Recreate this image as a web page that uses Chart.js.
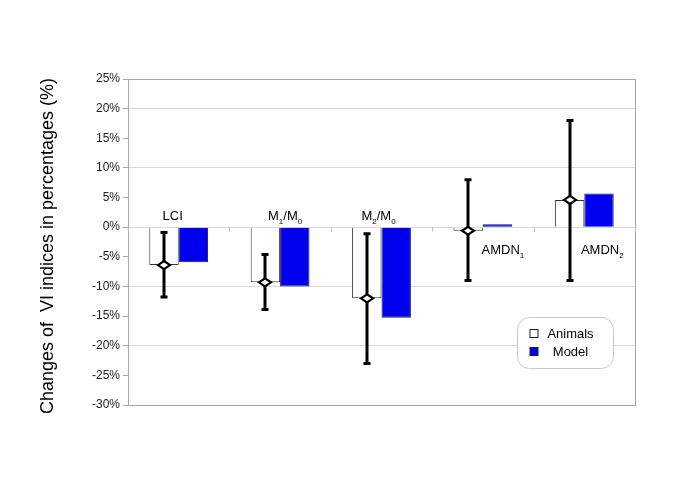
<!DOCTYPE html>
<html>
<head>
<meta charset="utf-8">
<script src="https://cdn.jsdelivr.net/npm/chart.js@4/dist/chart.umd.min.js"></script>
<style>
    html, body { margin: 0; padding: 0; background: #fff; }
    #wrap { width: 685px; height: 484px; }
</style>
</head>
<body>
<div id="wrap"><canvas id="c" width="685" height="484"></canvas></div>
<script>
// ── Data ─────────────────────────────────────────────────────────────────────

// '_' marks the next character as a subscript
const categories = ['LCI', 'M_1/M_0', 'M_2/M_0', 'AMDN_1', 'AMDN_2']
const animals = [-6.4, -9.3, -12.0, -0.6, 4.6]
const model = [-5.9, -10.0, -15.3, 0.5, 5.7]
const errLow = [-11.8, -13.9, -23.0, -9.0, -9.0]
const errHigh = [-0.9, -4.6, -1.1, 8.0, 18.0]
const yTicks = [25, 20, 15, 10, 5, 0, -5, -10, -15, -20, -25, -30]

const FONT = '"Liberation Sans", Arial, Helvetica, sans-serif'
const BLUE = '#0000ee'


// ── Plugins ──────────────────────────────────────────────────────────────────

// frame around the plot + small category ticks on the zero line
const framePlugin = {
    id: 'frame',
    beforeDatasetsDraw(chart) {
        const { ctx, chartArea: a, scales: { x, y } } = chart
        ctx.save()
        ctx.strokeStyle = '#a6a6a6'
        ctx.lineWidth = 1
        ctx.strokeRect(Math.round(a.left) + 0.5, Math.round(a.top) + 0.5,
            Math.round(a.right - a.left), Math.round(a.bottom - a.top))
        const y0 = Math.round(y.getPixelForValue(0)) + 0.5
        ctx.beginPath()
        for (let i = 0; i <= categories.length; i++) {
            const px = Math.round(x.getPixelForValue(i - 0.5)) + 0.5
            ctx.moveTo(px, y0)
            ctx.lineTo(px, y0 + 4)
        }
        ctx.strokeStyle = '#bfbfbf'
        ctx.stroke()
        ctx.restore()
    }
}

// error bars and diamond means on the Animals bars
const errorPlugin = {
    id: 'errors',
    afterDatasetsDraw(chart) {
        const { ctx, scales: { y } } = chart
        const bars = chart.getDatasetMeta(0).data
        ctx.save()
        ctx.strokeStyle = '#000'
        ctx.lineCap = 'butt'
        bars.forEach((bar, i) => {
            const cx = Math.round(bar.x)
            const yl = y.getPixelForValue(errLow[i])
            const yh = y.getPixelForValue(errHigh[i])
            ctx.lineWidth = 3
            ctx.beginPath()
            ctx.moveTo(cx, yh)
            ctx.lineTo(cx, yl)
            ctx.moveTo(cx - 3.5, yh)
            ctx.lineTo(cx + 3.5, yh)
            ctx.moveTo(cx - 3.5, yl)
            ctx.lineTo(cx + 3.5, yl)
            ctx.stroke()

            const ym = y.getPixelForValue(animals[i])
            ctx.beginPath()
            ctx.moveTo(cx - 6, ym)
            ctx.lineTo(cx, ym - 4)
            ctx.lineTo(cx + 6, ym)
            ctx.lineTo(cx, ym + 4)
            ctx.closePath()
            ctx.fillStyle = '#fff'
            ctx.fill()
            ctx.lineWidth = 2.2
            ctx.stroke()
        })
        ctx.restore()
    }
}

function drawSubText(ctx, text, cx, cy, size) {
    const parts = []
    for (let i = 0; i < text.length; i++) {
        if (text[i] === '_') { parts.push({ t: text[i + 1], sub: true }); i++ }
        else parts.push({ t: text[i], sub: false })
    }
    const big = `${size}px ${FONT}`
    const small = `${Math.round(size * 0.62)}px ${FONT}`
    let w = 0
    parts.forEach(p => { ctx.font = p.sub ? small : big; p.w = ctx.measureText(p.t).width; w += p.w })
    let px = cx - w / 2
    ctx.textBaseline = 'alphabetic'
    ctx.textAlign = 'left'
    parts.forEach(p => {
        ctx.font = p.sub ? small : big
        ctx.fillText(p.t, px, cy + size * 0.36 + (p.sub ? size * 0.3 : 0))
        px += p.w
    })
}

// category names placed by the bars
const catLabelPlugin = {
    id: 'catLabels',
    afterDatasetsDraw(chart, args, opts) {
        const { ctx, scales: { x, y } } = chart
        const y0 = y.getPixelForValue(0)
        ctx.save()
        ctx.fillStyle = '#000'
        categories.forEach((c, i) => {
            const cx = x.getPixelForValue(i) + opts.dx[i]
            const above = Math.max(animals[i], model[i]) <= 0.5 && Math.min(animals[i], model[i]) < -2
            const cy = above ? y0 - 12 : y0 + 22
            drawSubText(ctx, c, cx, cy, 13)
        })
        ctx.restore()
    }
}

// rounded legend box
const legendBoxPlugin = {
    id: 'legendBox',
    afterDraw(chart) {
        const { ctx, chartArea: a } = chart
        const bx = a.right - 117.5, by = a.bottom - 87.5, bw = 96, bh = 51
        ctx.save()
        ctx.beginPath()
        ctx.roundRect(bx, by, bw, bh, 12)
        ctx.fillStyle = '#fff'
        ctx.fill()
        ctx.strokeStyle = '#c8c8c8'
        ctx.lineWidth = 1
        ctx.stroke()
        chart.data.datasets.forEach((ds, i) => {
            const sy = by + 12 + i * 18
            ctx.fillStyle = ds.backgroundColor
            ctx.fillRect(bx + 12.5, sy, 8, 8)
            ctx.strokeStyle = '#222'
            ctx.strokeRect(bx + 12.5, sy, 8, 8)
            ctx.fillStyle = '#000'
            ctx.font = `13px ${FONT}`
            ctx.textAlign = 'center'
            ctx.textBaseline = 'middle'
            ctx.fillText(ds.label, bx + 53, sy + 4.5)
        })
        ctx.restore()
    }
}

// rotated y title
const yTitlePlugin = {
    id: 'yTitle',
    afterDraw(chart) {
        const { ctx, chartArea: a } = chart
        ctx.save()
        ctx.translate(48, (a.top + a.bottom) / 2 + 4)
        ctx.rotate(-Math.PI / 2)
        ctx.font = `18px ${FONT}`
        ctx.fillStyle = '#000'
        ctx.textAlign = 'center'
        ctx.textBaseline = 'middle'
        ctx.fillText('Changes of  VI indices in percentages (%)', 0, 0)
        ctx.restore()
    }
}


// ── Chart ────────────────────────────────────────────────────────────────────

new Chart(document.getElementById('c'), {
    type: 'bar',
    data: {
        labels: categories,
        datasets: [
            { label: 'Animals', data: animals, backgroundColor: '#ffffff', borderColor: '#333', borderWidth: 1 },
            { label: 'Model', data: model, backgroundColor: BLUE, borderColor: '#1a1a4a', borderWidth: 1 },
        ]
    },
    options: {
        responsive: false,
        animation: false,
        devicePixelRatio: 1,
        layout: { padding: { left: 0, right: 50, top: 79, bottom: 79 } },
        datasets: { bar: { categoryPercentage: 0.58, barPercentage: 1 } },
        plugins: {
            legend: { display: false },
            tooltip: { enabled: false },
            catLabels: { dx: [-6, 5, -3, 20, 18] },
        },
        scales: {
            x: { display: false },
            y: {
                min: -30, max: 25,
                afterFit: s => { s.width = 128 },
                afterBuildTicks: s => { s.ticks = yTicks.map(v => ({ value: v })) },
                ticks: {
                    callback: v => v + '%',
                    color: '#222',
                    padding: 3,
                    font: { family: FONT, size: 12 },
                },
                grid: {
                    color: c => (c.tick && c.tick.value % 10 === 0 && c.tick.value > -30) ? '#d9d9d9' : 'rgba(0,0,0,0)',
                    tickColor: '#a6a6a6',
                    tickLength: 5,
                    drawTicks: true,
                },
                border: { color: '#a6a6a6' },
            }
        }
    },
    plugins: [framePlugin, errorPlugin, catLabelPlugin, legendBoxPlugin, yTitlePlugin]
})
</script>
</body>
</html>
